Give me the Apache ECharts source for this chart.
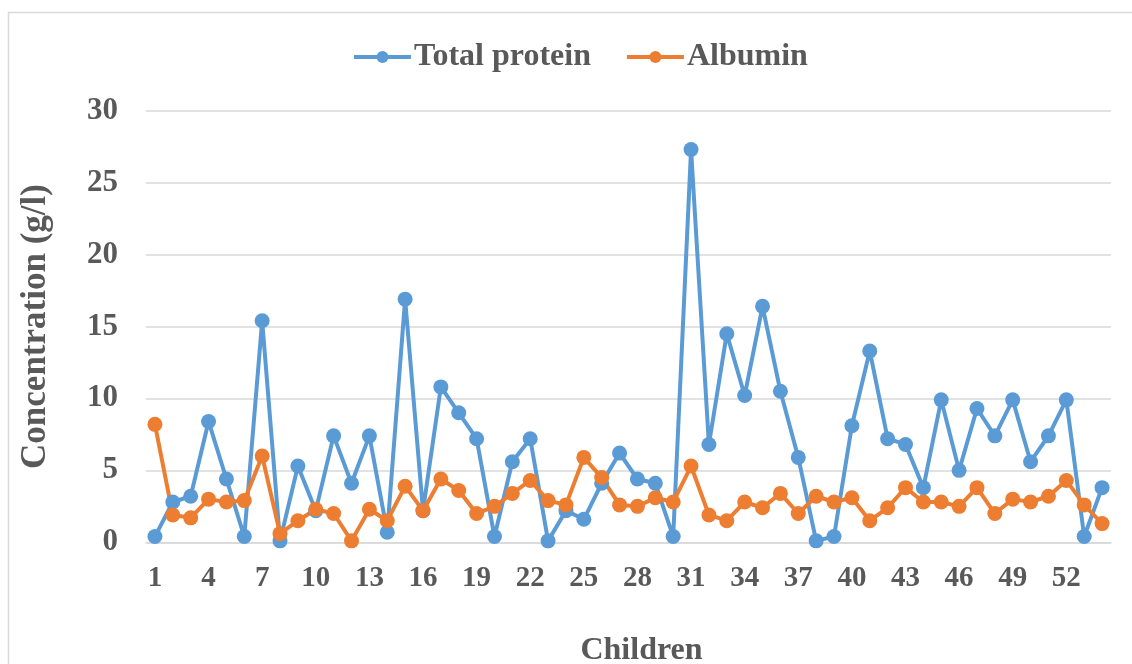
<!DOCTYPE html>
<html>
<head>
<meta charset="utf-8">
<script src="https://cdn.jsdelivr.net/npm/echarts@6/dist/echarts.min.js"></script>
<style>html,body{margin:0;padding:0;background:#fff;}#c{width:1132px;height:664px;}</style>
</head>
<body>
<div id="c"></div>
<script>
const children = Array.from({length: 54}, (_, i) => String(i + 1));
const totalProtein = [0.4, 2.8, 3.2, 8.4, 4.4, 0.4, 15.4, 0.1, 5.3, 2.2,
  7.4, 4.1, 7.4, 0.7, 16.9, 2.2, 10.8, 9.0, 7.2, 0.4,
  5.6, 7.2, 0.1, 2.2, 1.6, 4.1, 6.2, 4.4, 4.1, 0.4,
  27.3, 6.8, 14.5, 10.2, 16.4, 10.5, 5.9, 0.1, 0.4, 8.1,
  13.3, 7.2, 6.8, 3.8, 9.9, 5.0, 9.3, 7.4, 9.9, 5.6,
  7.4, 9.9, 0.4, 3.8];
const albumin = [8.2, 1.9, 1.7, 3.0, 2.8, 2.9, 6.0, 0.6, 1.5, 2.3,
  2.0, 0.1, 2.3, 1.5, 3.9, 2.2, 4.4, 3.6, 2.0, 2.5,
  3.4, 4.3, 2.9, 2.6, 5.9, 4.5, 2.6, 2.5, 3.1, 2.8,
  5.3, 1.9, 1.5, 2.8, 2.4, 3.4, 2.0, 3.2, 2.8, 3.1,
  1.5, 2.4, 3.8, 2.8, 2.8, 2.5, 3.8, 2.0, 3.0, 2.8,
  3.2, 4.3, 2.6, 1.3];
const seriesNames = ['Total protein', 'Albumin'];

const font = '"Liberation Serif", "Times New Roman", serif';
const txt = '#595959';
const chart = echarts.init(document.getElementById('c'), null, {renderer: 'canvas'});
chart.setOption({
  backgroundColor: '#ffffff',
  animation: false,
  graphic: [{
    type: 'rect', shape: {x: 8.5, y: 12.5, width: 1300, height: 800},
    style: {fill: 'none', stroke: '#D9D9D9', lineWidth: 1.5}, silent: true
  }],
  legend: {
    top: 36, left: 347,
    itemWidth: 57, itemHeight: 15, itemGap: 34,
    lineStyle: {width: 4},
    textStyle: {fontFamily: font, fontWeight: 'bold', fontSize: 32, color: txt, padding: [0, 0, 0, -2]},
    data: seriesNames
  },
  grid: {left: 146, right: 21, top: 110.7, bottom: 121.7, containLabel: false, outerBoundsMode: 'none'},
  xAxis: {
    type: 'category', data: children, boundaryGap: true,
    name: 'Children', nameLocation: 'middle', nameGap: 92,
    nameTextStyle: {fontFamily: font, fontWeight: 'bold', fontSize: 32, color: txt, padding: [0, 0, 0, 26]},
    axisLine: {show: true, lineStyle: {color: '#D9D9D9', width: 1.5}},
    axisTick: {show: false},
    axisLabel: {interval: 2, margin: 22, fontFamily: font, fontWeight: 'bold', fontSize: 29, color: txt}
  },
  yAxis: {
    type: 'value', min: 0, max: 30, interval: 5,
    name: 'Concentration (g/l)', nameLocation: 'middle', nameGap: 93, nameRotate: 90,
    nameTextStyle: {fontFamily: font, fontWeight: 'bold', fontSize: 35, color: txt},
    axisLine: {show: false}, axisTick: {show: false},
    axisLabel: {margin: 28, fontFamily: font, fontWeight: 'bold', fontSize: 31, color: txt},
    splitLine: {lineStyle: {color: '#D9D9D9', width: 1.5}}
  },
  series: [
    {name: seriesNames[0], type: 'line', data: totalProtein, symbol: 'circle', symbolSize: 15,
     showAllSymbol: true,
     itemStyle: {color: '#5B9BD5'}, lineStyle: {color: '#5B9BD5', width: 4}},
    {name: seriesNames[1], type: 'line', data: albumin, symbol: 'circle', symbolSize: 15,
     showAllSymbol: true,
     itemStyle: {color: '#ED7D31'}, lineStyle: {color: '#ED7D31', width: 4}}
  ]
});
</script>
</body>
</html>
